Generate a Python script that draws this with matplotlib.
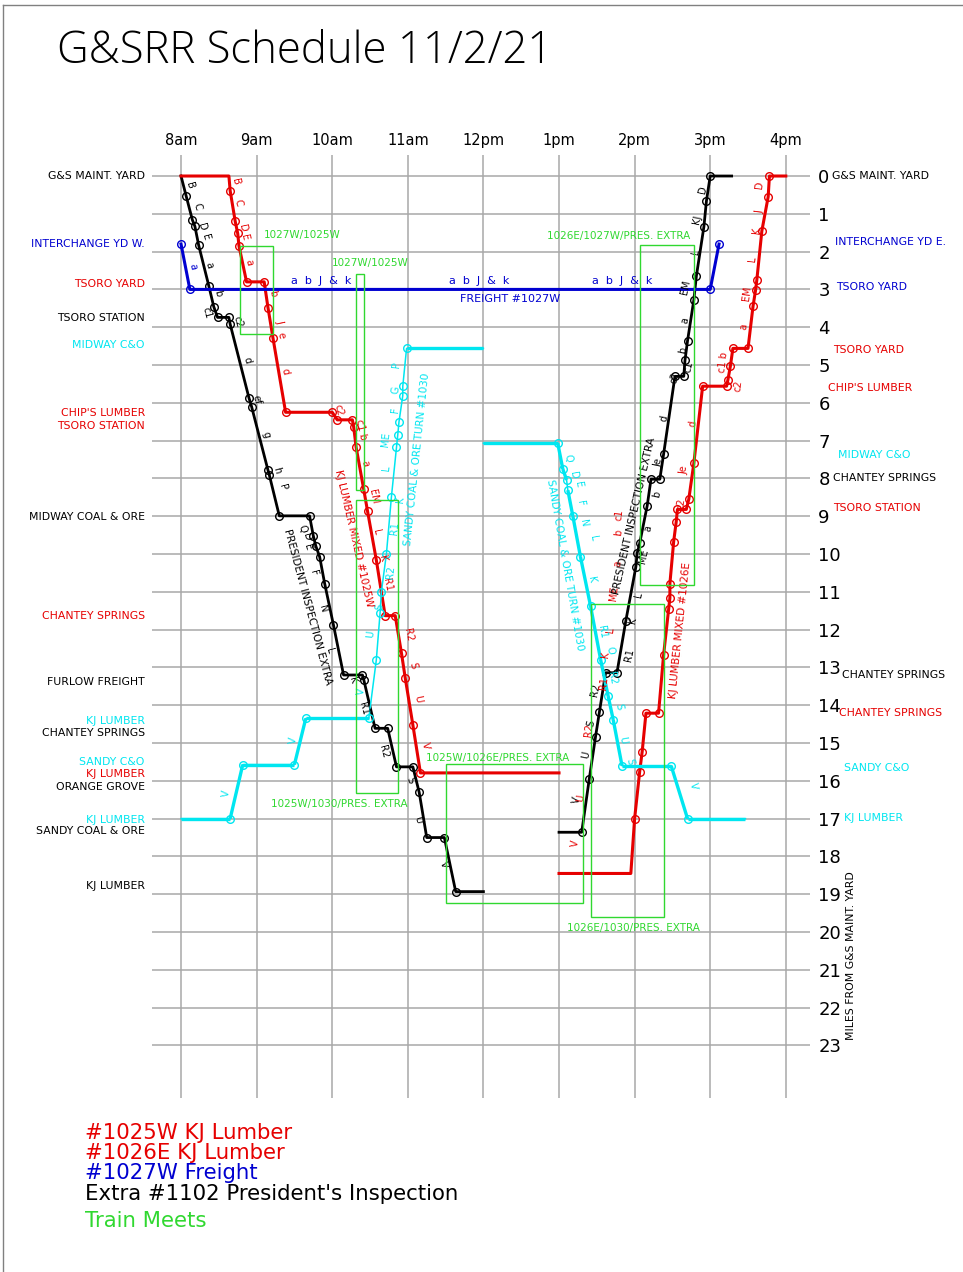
import matplotlib
matplotlib.use("Agg")
import matplotlib.pyplot as plt
from matplotlib.patches import Rectangle
from matplotlib.lines import Line2D

RED = "#e60000"
BLUE = "#0000d0"
CYAN = "#00e6f0"
GREEN = "#30d830"
GRID = "#a8a8a8"


def hrs(times):
    out = []
    for t in times:
        h, m = t.split(":")
        out.append(int(h) + int(m) / 60)
    return out


# ---- train runs (time, miles from G&S maint. yard) ----
# Extra #1102 President's Inspection, westbound
pres_w_time = ["8:00", "8:04", "8:09", "8:11", "8:14", "8:22", "8:26", "8:29", "8:38", "8:39",
               "8:54", "8:56", "9:09", "9:10", "9:18", "9:42", "9:45", "9:47", "9:50", "9:54",
               "10:01", "10:09", "10:24", "10:25", "10:34", "10:44", "10:51", "11:04", "11:09",
               "11:15", "11:29", "11:38", "12:00"]
pres_w_mile = [0, 0.52, 1.16, 1.33, 1.83, 2.9, 3.46, 3.74, 3.74, 3.92,
               5.88, 6.1, 7.78, 7.9, 8.99, 8.99, 9.52, 9.79, 10.07, 10.78,
               11.88, 13.2, 13.2, 13.32, 14.61, 14.61, 15.63, 15.63, 16.3,
               17.5, 17.5, 18.93, 18.93]

# Extra #1102 eastbound return
pres_e_time = ["13:00", "13:18", "13:24", "13:29", "13:32", "13:37", "13:46", "13:53", "14:01",
               "14:02", "14:04", "14:10", "14:13", "14:20", "14:23", "14:32", "14:39", "14:40",
               "14:42", "14:47", "14:49", "14:55", "14:57", "15:00", "15:17"]
pres_e_mile = [17.36, 17.36, 15.95, 14.83, 14.19, 13.14, 13.14, 11.77, 10.34,
               9.98, 9.72, 8.72, 8.02, 8.02, 7.36, 5.3, 5.3, 4.87,
               4.36, 3.28, 2.65, 1.34, 0.66, 0, 0]

# #1025W KJ Lumber
kj_w_time = ["8:00", "8:38", "8:39", "8:43", "8:45", "8:46", "8:52", "9:06", "9:09", "9:13",
             "9:23", "10:00", "10:04", "10:16", "10:17", "10:19", "10:25", "10:28", "10:35",
             "10:42", "10:50", "10:55", "10:58", "11:04", "11:10", "13:00"]
kj_w_mile = [0, 0, 0.39, 1.2, 1.52, 1.85, 2.8, 2.8, 3.48, 4.29,
             6.25, 6.25, 6.45, 6.45, 6.63, 7.18, 8.29, 8.86, 10.16,
             11.63, 11.63, 12.63, 13.29, 14.52, 15.79, 15.79]

# #1026E KJ Lumber
kj_e_time = ["13:00", "13:57", "14:00", "14:04", "14:06", "14:09", "14:19", "14:23", "14:27",
             "14:28", "14:28", "14:31", "14:33", "14:34", "14:41", "14:43", "14:47", "14:54",
             "15:13", "15:14", "15:16", "15:18", "15:30", "15:34", "15:36", "15:37", "15:41",
             "15:46", "15:47", "16:00"]
kj_e_mile = [18.45, 18.45, 17.0, 15.76, 15.23, 14.21, 14.21, 12.67, 11.46,
             11.16, 10.78, 9.67, 9.15, 8.82, 8.82, 8.55, 7.6, 5.56,
             5.56, 5.4, 5.03, 4.56, 4.56, 3.44, 3.02, 2.75, 1.45,
             0.55, 0, 0]

# #1027W Freight
fr_time = ["8:00", "8:07", "15:00", "15:07"]
fr_mile = [1.8, 3.0, 3.0, 1.8]

# #1030 Sandy Coal & Ore Turn, outbound and return
sc_w_time = ["8:00", "8:39", "8:49", "9:30", "9:39", "10:29", "10:35", "10:38", "10:39", "10:43",
             "10:47", "10:51", "10:52", "10:53", "10:56", "10:56", "10:59", "12:00"]
sc_w_mile = [17.0, 17.0, 15.57, 15.57, 14.35, 14.35, 12.8, 11.55, 11.0, 10.0,
             8.48, 7.18, 6.85, 6.5, 5.81, 5.56, 4.56, 4.56]
sc_e_time = ["12:00", "12:59", "13:03", "13:06", "13:07", "13:11", "13:17", "13:25", "13:33",
             "13:39", "13:43", "13:50", "14:29", "14:42", "15:28"]
sc_e_mile = [7.07, 7.07, 7.75, 8.04, 8.31, 9.0, 10.07, 11.37, 12.79,
             13.76, 14.38, 15.6, 15.6, 17.0, 17.0]

# ---- train meets ----
meet_start = ["8:47", "10:19", "10:19", "11:30", "13:25", "14:04"]
meet_end = ["9:13", "10:25", "10:52", "13:19", "14:23", "14:47"]
meet_top = [1.85, 2.6, 8.57, 15.56, 11.33, 1.83]
meet_bottom = [4.18, 8.31, 16.33, 19.24, 19.6, 10.82]
meet_names = ["1027W/1025W", "1027W/1025W", "1025W/1030/PRES. EXTRA",
              "1025W/1026E/PRES. EXTRA", "1026E/1030/PRES. EXTRA", "1026E/1027W/PRES. EXTRA"]
meet_name_time = [9.10, 10.0, 11.0, 11.24, 13.10, 14.74]
meet_name_mile = [1.56, 2.3, 16.6, 15.4, 19.89, 1.59]
meet_name_align = ["left", "left", "right", "left", "left", "right"]

# ---- axis labels ----
hour_ticks = [8, 9, 10, 11, 12, 13, 14, 15, 16]
hour_labels = ["8am", "9am", "10am", "11am", "12pm", "1pm", "2pm", "3pm", "4pm"]
mile_ticks = list(range(24))

west_stations = [(0, "G&S MAINT. YARD", "black"), (1.8, "INTERCHANGE YD W.", BLUE),
                 (2.86, "TSORO YARD", RED), (3.76, "TSORO STATION", "black"),
                 (4.47, "MIDWAY C&O", CYAN), (6.27, "CHIP'S LUMBER", RED),
                 (6.61, "TSORO STATION", RED), (9.02, "MIDWAY COAL & ORE", "black"),
                 (11.64, "CHANTEY SPRINGS", RED), (13.38, "FURLOW FREIGHT", "black"),
                 (14.43, "KJ LUMBER", CYAN), (14.74, "CHANTEY SPRINGS", "black"),
                 (15.51, "SANDY C&O", CYAN), (15.82, "KJ LUMBER", RED),
                 (16.16, "ORANGE GROVE", "black"), (17.04, "KJ LUMBER", CYAN),
                 (17.33, "SANDY COAL & ORE", "black"), (18.78, "KJ LUMBER", "black")]

east_stations = [(0, "G&S MAINT. YARD", "black", 1.033), (1.74, "INTERCHANGE YD E.", BLUE, 1.038),
                 (2.93, "TSORO YARD", BLUE, 1.040), (4.59, "TSORO YARD", RED, 1.035),
                 (5.6, "CHIP'S LUMBER", RED, 1.028), (7.38, "MIDWAY C&O", CYAN, 1.042),
                 (7.98, "CHANTEY SPRINGS", "black", 1.035), (8.79, "TSORO STATION", RED, 1.035),
                 (13.2, "CHANTEY SPRINGS", "black", 1.048), (14.2, "CHANTEY SPRINGS", RED, 1.044),
                 (15.67, "SANDY C&O", CYAN, 1.051), (16.97, "KJ LUMBER", CYAN, 1.051)]

# station codes written along each run: (hour, mile, code)
pres_w_codes = [(8.11, 0.24, "B"), (8.21, 0.81, "C"), (8.27, 1.34, "D"), (8.33, 1.61, "E"),
                (8.37, 2.35, "a"), (8.49, 3.10, "b"), (8.34, 3.62, "c1"), (8.75, 3.85, "c2"),
                (8.87, 4.87, "d"), (9.00, 5.91, "ef"), (9.13, 6.83, "g"), (9.27, 7.78, "h"),
                (9.35, 8.24, "P"), (9.61, 9.32, "Q"), (9.66, 9.55, "D"), (9.68, 9.81, "E"),
                (9.75, 10.49, "F"), (9.87, 11.46, "N"), (9.97, 12.57, "L"), (10.27, 13.33, "K"),
                (10.42, 14.08, "R1"), (10.68, 15.23, "R2"), (11.03, 15.98, "S"),
                (11.13, 17.04, "U"), (11.48, 18.2, "V")]
pres_e_codes = [(13.23, 16.51, "V"), (13.36, 15.32, "U"), (13.43, 14.48, "S"), (13.48, 13.6, "R2"),
                (13.93, 12.67, "R1"), (13.98, 11.75, "K"), (14.05, 11.08, "L"), (14.12, 10.07, "ME"),
                (14.18, 9.32, "a"), (14.29, 8.42, "b"), (14.31, 7.57, "Je"), (14.39, 6.41, "d"),
                (14.53, 5.34, "c2"), (14.72, 5.04, "c1"), (14.64, 4.6, "b"), (14.67, 3.81, "a"),
                (14.68, 2.93, "EM"), (14.81, 2.0, "L"), (14.83, 1.16, "KJ"), (14.90, 0.37, "D")]
kj_w_codes = [(8.72, 0.15, "B"), (8.75, 0.71, "C"), (8.82, 1.38, "D"), (8.84, 1.61, "E"),
              (8.90, 2.27, "a"), (9.21, 3.10, "b"), (9.30, 3.85, "J"), (9.32, 4.21, "e"),
              (9.38, 5.18, "d"), (10.09, 6.19, "c2"), (10.38, 6.72, "c1 b"), (10.43, 7.6, "a"),
              (10.55, 8.48, "EM"), (10.59, 9.41, "L"), (10.66, 10.11, "K"), (10.73, 10.82, "R1"),
              (11.01, 12.14, "R2"), (11.07, 12.94, "S"), (11.13, 13.82, "U"), (11.23, 15.06, "V")]
kj_e_codes = [(13.21, 17.65, "V"), (13.29, 16.46, "U"), (13.39, 14.66, "R2"), (13.59, 13.42, "R1"),
              (13.62, 12.67, "K"), (13.68, 12.01, "L"), (13.73, 11.04, "ME"), (13.78, 10.25, "a"),
              (13.79, 9.43, "b"), (13.79, 8.97, "c1"), (14.62, 8.66, "c2"), (14.65, 7.78, "Je"),
              (14.77, 6.54, "d"), (15.37, 5.56, "c2"), (15.17, 4.92, "c1 b"), (15.44, 3.99, "a"),
              (15.48, 3.1, "EM"), (15.56, 2.18, "L"), (15.61, 1.43, "K"), (15.65, 0.94, "J"),
              (15.65, 0.24, "D")]
sc_w_codes = [(8.60, 16.32, "V"), (9.49, 14.92, "V"), (10.39, 13.64, "V"), (10.51, 12.12, "U"),
              (10.63, 11.39, "S"), (10.77, 10.47, "R2"), (10.83, 9.32, "R1"), (10.90, 8.57, "K"),
              (10.72, 7.73, "L"), (10.71, 6.98, "ME"), (10.83, 6.19, "F"), (10.84, 5.66, "G"),
              (10.85, 4.98, "P")]
sc_e_codes = [(13.12, 7.47, "Q"), (13.19, 7.91, "D"), (13.26, 8.17, "E"), (13.28, 8.66, "F"),
              (13.32, 9.19, "N"), (13.45, 9.58, "L"), (13.43, 10.69, "K"), (13.57, 12.06, "R1"),
              (13.67, 12.54, "O"), (13.70, 13.29, "R2"), (13.79, 14.04, "S"), (13.84, 14.92, "U"),
              (13.94, 15.49, "S"), (14.78, 16.14, "V")]

train_names = [("PRESIDENT INSPECTION EXTRA", 9.67, 11.39, -75, "black"),
               ("PRESIDENT INSPECTION EXTRA", 14.0, 9.0, 77, "black"),
               ("KJ LUMBER MIXED #1025W", 10.29, 9.58, -77, RED),
               ("KJ LUMBER MIXED #1026E", 14.6, 12.01, 84, RED),
               ("SANDY COAL & ORE TURN #1030", 11.12, 7.5, 84, CYAN),
               ("SANDY COAL & ORE TURN #1030", 13.08, 10.29, -80, CYAN)]

freight_codes = [9.85, 11.94, 13.83]

legend = [("#1025W KJ Lumber", RED), ("#1026E KJ Lumber", RED), ("#1027W Freight", BLUE),
          ("Extra #1102 President's Inspection", "black")]

# ---------------------------------------------------------------
fig = plt.figure(figsize=(9.63, 12.72), dpi=100)
fig.patch.set_facecolor("white")
ax = fig.add_axes([152 / 963, 1 - 1098 / 1272, 658 / 963, 943 / 1272])
ax.set_xlim(7.616, 16.32)
ax.set_ylim(24.39, -0.556)
for s in ax.spines.values():
    s.set_visible(False)

ax.set_xticks(hour_ticks)
ax.set_xticklabels(hour_labels, fontsize=10.5)
ax.xaxis.tick_top()
ax.tick_params(axis="x", length=0, pad=5)
ax.set_yticks(mile_ticks)
ax.set_yticklabels([str(m) for m in mile_ticks], fontsize=13)
ax.yaxis.tick_right()
ax.tick_params(axis="y", length=0, pad=6)
ax.grid(True, color=GRID, lw=1.1)
ax.set_axisbelow(True)

mk = dict(marker="o", markersize=5.5, markerfacecolor="none", markeredgewidth=1.0)

ax.plot(hrs(pres_w_time), pres_w_mile, color="black", lw=2.0, markevery=slice(1, -1), **mk)
ax.plot(hrs(pres_e_time), pres_e_mile, color="black", lw=2.0, markevery=slice(1, -1), **mk)
ax.plot(hrs(kj_w_time), kj_w_mile, color=RED, lw=2.2, markevery=slice(2, -1), **mk)
ax.plot(hrs(kj_e_time), kj_e_mile, color=RED, lw=2.2, markevery=slice(2, -1), **mk)
ax.plot(hrs(fr_time), fr_mile, color=BLUE, lw=2.2, **mk)

# sandy coal & ore turn: thin on the main run, heavy in yard / slow moves
for tt, mm in [(hrs(sc_w_time), sc_w_mile), (hrs(sc_e_time), sc_e_mile)]:
    ax.plot(tt, mm, color=CYAN, lw=1.1, markevery=slice(1, -1), **mk)
    for i in range(len(tt) - 1):
        speed = abs(mm[i + 1] - mm[i]) / max(tt[i + 1] - tt[i], 1e-6)
        if speed < 12:
            ax.plot(tt[i:i + 2], mm[i:i + 2], color=CYAN, lw=2.4, solid_capstyle="butt")

# meets
t0s, t1s = hrs(meet_start), hrs(meet_end)
for i in range(len(meet_names)):
    ax.add_patch(Rectangle((t0s[i], meet_top[i]), t1s[i] - t0s[i], meet_bottom[i] - meet_top[i],
                           fill=False, edgecolor=GREEN, lw=1.0, zorder=4))
    ax.text(meet_name_time[i], meet_name_mile[i], meet_names[i], color=GREEN, fontsize=7.5,
            ha=meet_name_align[i], va="center")

# codes along runs
code_sets = [(pres_w_codes, "black", -75), (pres_e_codes, "black", 78),
             (kj_w_codes, RED, -78), (kj_e_codes, RED, 83),
             (sc_w_codes, CYAN, 84), (sc_e_codes, CYAN, -80)]
for codes, col, rot in code_sets:
    for h, m, s in codes:
        ax.text(h, m, s, color=col, fontsize=7, rotation=rot, rotation_mode="anchor",
                ha="center", va="center")
ax.text(8.155, 2.4, "a", color=BLUE, fontsize=7, rotation=-80, ha="center", va="center")

for s, h, m, rot, col in train_names:
    ax.text(h, m, s, color=col, fontsize=7.5, rotation=rot, rotation_mode="anchor",
            ha="center", va="center")

for h in freight_codes:
    ax.text(h, 2.78, "a  b  J  &  k", color=BLUE, fontsize=8, ha="center", va="center")
ax.text(12.35, 3.25, "FREIGHT #1027W", color=BLUE, fontsize=8, ha="center", va="center")

# station names
ytr = ax.get_yaxis_transform()
for m, s, col in west_stations:
    ax.text(-0.011, m, s, color=col, fontsize=7.8, ha="right", va="center",
            transform=ytr, clip_on=False)
for m, s, col, x in east_stations:
    ax.text(x, m, s, color=col, fontsize=7.8, ha="left", va="center",
            transform=ytr, clip_on=False)
ax.text(1.063, 20.62, "MILES FROM G&S MAINT. YARD", fontsize=7.8, rotation=90,
        ha="center", va="center", transform=ytr, clip_on=False)

# title in thin lettering like the CAD original
fig.text(57 / 963, 1 - 52 / 1272, "G&SRR Schedule 11/2/21", fontsize=31.5, color="#000000",
         ha="left", va="center", family=["Open Sans", "DejaVu Sans"], weight="light")

# legend
for i, (s, col) in enumerate(legend):
    fig.text(85 / 963, 1 - (1133 + 20.2 * i) / 1272, s, fontsize=15.3, color=col,
             ha="left", va="center")
fig.text(85 / 963, 1 - 1221 / 1272, "Train Meets", fontsize=15.3, color=GREEN,
         ha="left", va="center")

fig.add_artist(Line2D([3 / 963, 3 / 963], [0, 1 - 5 / 1272], color="#808080", lw=1))
fig.add_artist(Line2D([3 / 963, 1], [1 - 5 / 1272, 1 - 5 / 1272], color="#808080", lw=1))

fig.savefig("out.png", dpi=100)
